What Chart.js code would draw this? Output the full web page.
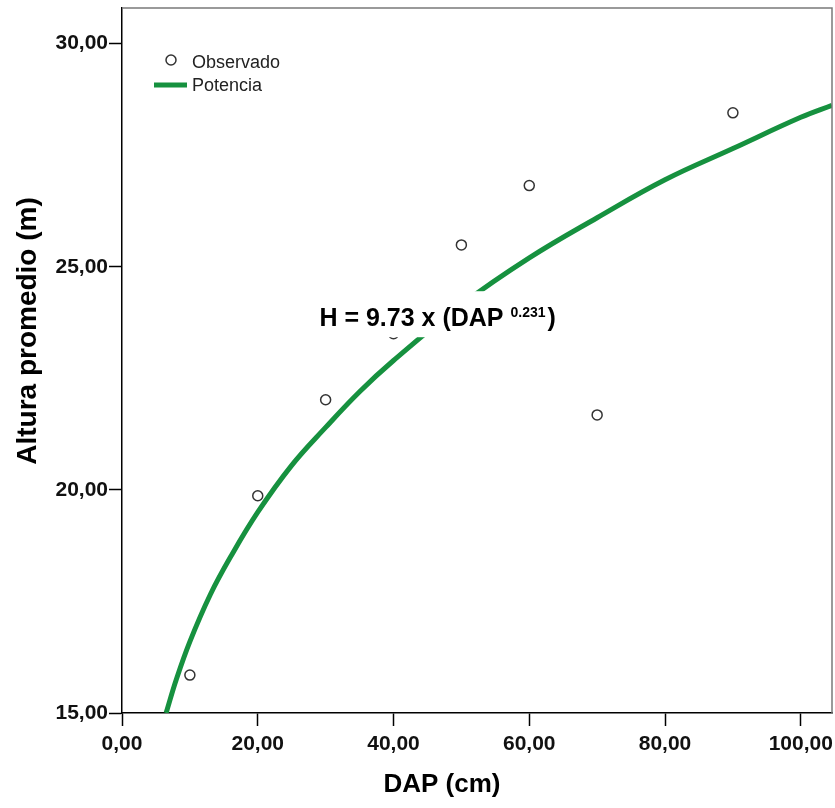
<!DOCTYPE html>
<html>
<head>
<meta charset="utf-8">
<script src="https://cdn.jsdelivr.net/npm/chart.js@4.4.1/dist/chart.umd.min.js"></script>
<style>
  html, body { margin: 0; padding: 0; background: #fff; }
  #wrap { width: 835px; height: 808px; }
</style>
</head>
<body>
<div id="wrap"><canvas id="myChart" width="835" height="808"></canvas></div>
<script>
// datos observados (DAP cm, altura m)
var obsDAP = [10, 20, 30, 40, 50, 60, 70, 90];
var obsAltura = [15.85, 19.87, 22.02, 23.5, 25.49, 26.82, 21.68, 28.45];

// curva ajustada (potencia)
var fitDAP = [6.5, 8, 10, 13, 16, 20, 25, 30, 35, 40, 50, 60, 70, 80, 90, 100, 104.6];
var fitAltura = [15.0, 15.75, 16.6, 17.65, 18.5, 19.5, 20.55, 21.4, 22.2, 22.9, 24.15, 25.2, 26.1, 26.95, 27.65, 28.35, 28.62];

var xTicks = [0, 20, 40, 60, 80, 100];
var yTicks = [15, 20, 25, 30];

var serieNames = ['Observado', 'Potencia'];
var ecuacion = ['H = 9.73 x (DAP ', '0.231', ')'];
var tituloX = 'DAP (cm)';
var tituloY = 'Altura promedio (m)';

var FONT = "'Liberation Sans', Arial, Helvetica, sans-serif";
var VERDE = '#16913f';

var obsData = [];
for (var i = 0; i < obsDAP.length; i++) obsData.push({x: obsDAP[i], y: obsAltura[i]});
var fitData = [];
for (var j = 0; j < fitDAP.length; j++) fitData.push({x: fitDAP[j], y: fitAltura[j]});

function coma(v) {
    return v.toFixed(2).replace('.', ',');
}

// sin relleno extra por las etiquetas, el area queda fija
function sinPadding(s) {
    s.paddingTop = 0;
    s.paddingBottom = 0;
    s.paddingLeft = 0;
    s.paddingRight = 0;
}

// leyenda, ecuacion, marco y titulos
var extras = {
    id: 'extras',
    afterDatasetsDraw: function (chart) {
        var ctx = chart.ctx;
        var a = chart.chartArea;
        var xs = chart.scales.x, ys = chart.scales.y;
        ctx.save();

        // caja blanca con la ecuacion
        var cx = xs.getPixelForValue(46.5);
        var cy = ys.getPixelForValue(23.87);
        ctx.fillStyle = '#fff';
        ctx.fillRect(cx - 133, cy - 26, 267, 46);

        ctx.fillStyle = '#000';
        ctx.textBaseline = 'alphabetic';
        ctx.textAlign = 'left';
        ctx.font = 'bold 25px ' + FONT;
        var w0 = ctx.measureText(ecuacion[0]).width;
        ctx.font = 'bold 14px ' + FONT;
        var w1 = ctx.measureText(ecuacion[1]).width;
        ctx.font = 'bold 25px ' + FONT;
        var w2 = ctx.measureText(ecuacion[2]).width;
        var x0 = cx - (w0 + w1 + 2 + w2) / 2;
        var base = cy + 9;
        ctx.fillText(ecuacion[0], x0, base);
        ctx.font = 'bold 14px ' + FONT;
        ctx.fillText(ecuacion[1], x0 + w0, base - 9);
        ctx.font = 'bold 25px ' + FONT;
        ctx.fillText(ecuacion[2], x0 + w0 + w1 + 2, base);

        // marco superior y derecho
        ctx.strokeStyle = '#7a7a7a';
        ctx.lineWidth = 1.5;
        ctx.beginPath();
        ctx.moveTo(a.left, a.top);
        ctx.lineTo(a.right, a.top);
        ctx.lineTo(a.right, a.bottom);
        ctx.stroke();

        // leyenda
        var lx = a.left + 49, ly = a.top + 52;
        ctx.beginPath();
        ctx.arc(lx, ly, 5, 0, Math.PI * 2);
        ctx.fillStyle = '#fff';
        ctx.fill();
        ctx.strokeStyle = '#333';
        ctx.lineWidth = 1.5;
        ctx.stroke();
        ctx.strokeStyle = VERDE;
        ctx.lineWidth = 5;
        ctx.beginPath();
        ctx.moveTo(a.left + 32, ly + 25);
        ctx.lineTo(a.left + 65, ly + 25);
        ctx.stroke();
        ctx.fillStyle = '#222';
        ctx.font = '18px ' + FONT;
        ctx.textBaseline = 'middle';
        ctx.fillText(serieNames[0], a.left + 70, ly + 3);
        ctx.fillText(serieNames[1], a.left + 70, ly + 26);
        ctx.restore();
    },
    afterDraw: function (chart) {
        var ctx = chart.ctx;
        ctx.save();
        ctx.fillStyle = '#000';
        ctx.textAlign = 'center';
        ctx.textBaseline = 'middle';
        ctx.font = 'bold 26px ' + FONT;
        ctx.fillText(tituloX, 442, 785);
        ctx.translate(28, 331);
        ctx.rotate(-Math.PI / 2);
        ctx.font = 'bold 28px ' + FONT;
        ctx.fillText(tituloY, 0, 0);
        ctx.restore();
    }
};

var ctx = document.getElementById('myChart').getContext('2d');
var chart1 = new Chart(ctx, {
    type: 'scatter',
    data: {
        datasets: [{
            label: serieNames[0],
            data: obsData,
            pointStyle: 'circle',
            pointRadius: 5,
            pointHoverRadius: 5,
            pointBorderWidth: 1.5,
            pointBorderColor: '#333',
            pointBackgroundColor: '#fff',
            showLine: false,
            order: 1
        }, {
            label: serieNames[1],
            type: 'line',
            data: fitData,
            borderColor: VERDE,
            borderWidth: 5,
            pointRadius: 0,
            fill: false,
            tension: 0.4,
            order: 2
        }]
    },
    options: {
        responsive: false,
        animation: false,
        events: [],
        layout: {autoPadding: false, padding: {top: 8, right: 3, left: 0, bottom: 0}},
        plugins: {
            legend: {display: false},
            tooltip: {enabled: false}
        },
        scales: {
            x: {
                type: 'linear',
                min: 0,
                max: 104.6,
                afterFit: function (s) { s.height = 95; sinPadding(s); },
                afterBuildTicks: function (s) { s.ticks = xTicks.map(function (v) { return {value: v}; }); },
                grid: {drawOnChartArea: false, drawTicks: true, tickLength: 13, tickColor: '#000', tickWidth: 1.5},
                border: {display: true, color: '#000', width: 1.5},
                ticks: {
                    includeBounds: false,
                    padding: 6,
                    color: '#111',
                    font: {family: FONT, size: 21, weight: 'bold'},
                    maxRotation: 0,
                    callback: function (v) { return coma(v); }
                }
            },
            y: {
                type: 'linear',
                min: 15,
                max: 30.8,
                afterFit: function (s) { s.width = 122; sinPadding(s); },
                afterBuildTicks: function (s) { s.ticks = yTicks.map(function (v) { return {value: v}; }); },
                grid: {drawOnChartArea: false, drawTicks: true, tickLength: 13, tickColor: '#000', tickWidth: 1.5},
                border: {display: true, color: '#000', width: 1.5},
                ticks: {
                    includeBounds: false,
                    padding: 1,
                    color: '#111',
                    font: {family: FONT, size: 21, weight: 'bold'},
                    callback: function (v) { return coma(v); }
                }
            }
        }
    },
    plugins: [extras]
});
</script>
</body>
</html>
